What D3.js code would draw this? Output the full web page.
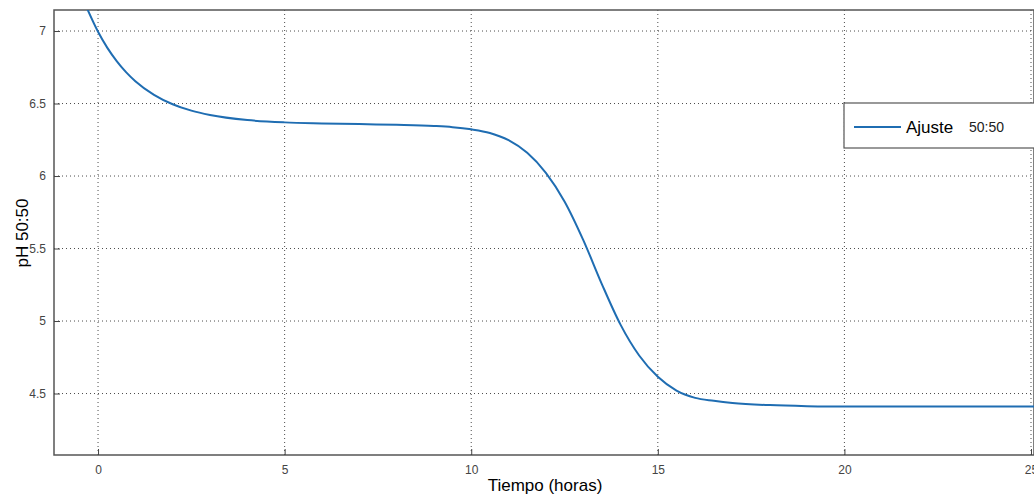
<!DOCTYPE html>
<html>
<head>
<meta charset="utf-8">
<script src="https://cdn.jsdelivr.net/npm/d3@7"></script>
<style>
  body { margin: 0; background: #fff; }
  svg { display: block; font-family: Arial, "Liberation Sans", sans-serif; }
</style>
</head>
<body>
<div id="chart"></div>
<script>
// Fitted pH curve
const tiempo = [-0.3, 0, 0.25, 0.5, 0.75, 1, 1.5, 2, 2.5, 3, 4, 5, 6, 7, 8, 9, 9.5, 10, 10.5, 11, 11.5, 12, 12.5, 13, 13.5, 14, 14.5, 15, 15.5, 16, 16.5, 17, 18, 19, 20, 22, 25.2];
const ph = [7.159, 6.995, 6.884, 6.793, 6.717, 6.654, 6.56, 6.495, 6.451, 6.421, 6.386, 6.37, 6.363, 6.358, 6.353, 6.345, 6.337, 6.322, 6.297, 6.247, 6.16, 6.022, 5.825, 5.56, 5.255, 4.975, 4.762, 4.615, 4.52, 4.47, 4.45, 4.435, 4.42, 4.413, 4.41, 4.41, 4.41];

const xTicks = [0, 5, 10, 15, 20, 25];
const yTicks = [4.5, 5, 5.5, 6, 6.5, 7];
const serieNombre = "Ajuste";
const serieSufijo = "50:50";

const W = 1034, H = 501;
const svg = d3.select("#chart").append("svg")
  .attr("width", W).attr("height", H);

const x = d3.scaleLinear().domain([-1.18, 25.08]).range([54, 1034]);
const y = d3.scaleLinear().domain([4.076, 7.145]).range([455, 10]);

// clip so the curve stays inside the axes
svg.append("clipPath").attr("id", "clip")
  .append("rect")
  .attr("x", x(-1.18)).attr("y", y(7.145))
  .attr("width", x(25.08) - x(-1.18)).attr("height", y(4.076) - y(7.145));

// grid lines (dotted)
svg.append("g").selectAll("line").data(xTicks).enter().append("line")
  .attr("x1", d => x(d)).attr("x2", d => x(d))
  .attr("y1", y(4.076)).attr("y2", y(7.145))
  .attr("stroke", "#000").attr("stroke-width", 1)
  .attr("stroke-dasharray", "1,3").attr("opacity", 0.7);
svg.append("g").selectAll("line").data(yTicks).enter().append("line")
  .attr("x1", x(-1.18)).attr("x2", x(25.08))
  .attr("y1", d => y(d)).attr("y2", d => y(d))
  .attr("stroke", "#000").attr("stroke-width", 1)
  .attr("stroke-dasharray", "1,3").attr("opacity", 0.7);

// axes box
svg.append("rect")
  .attr("x", x(-1.18)).attr("y", y(7.145))
  .attr("width", x(25.08) - x(-1.18)).attr("height", y(4.076) - y(7.145))
  .attr("fill", "none").attr("stroke", "#555").attr("stroke-width", 1.5);

// bottom axis
const xAxis = svg.append("g")
  .attr("transform", "translate(0," + y(4.076) + ")")
  .call(d3.axisBottom(x).tickValues(xTicks).tickSizeInner(-6).tickSizeOuter(0).tickPadding(10));
xAxis.select(".domain").remove();
xAxis.selectAll(".tick line").attr("stroke", "#444");
xAxis.selectAll("text").attr("font-size", 12).attr("fill", "#444");

// left axis
const yAxis = svg.append("g")
  .attr("transform", "translate(" + x(-1.18) + ",0)")
  .call(d3.axisLeft(y).tickValues(yTicks).tickSizeInner(-6).tickSizeOuter(0).tickPadding(8)
    .tickFormat(d3.format("")));
yAxis.select(".domain").remove();
yAxis.selectAll(".tick line").attr("stroke", "#444");
yAxis.selectAll("text").attr("font-size", 12).attr("fill", "#444");

// curve
const datos = tiempo.map((t, i) => ({t: t, ph: ph[i]}));
svg.append("path")
  .datum(datos)
  .attr("clip-path", "url(#clip)")
  .attr("fill", "none")
  .attr("stroke", "#1f6db2")
  .attr("stroke-width", 2)
  .attr("d", d3.line()
    .x(d => x(d.t))
    .y(d => y(d.ph))
    .curve(d3.curveMonotoneX));

// axis labels
svg.append("text")
  .attr("x", 545).attr("y", 491)
  .attr("text-anchor", "middle").attr("font-size", 17)
  .text("Tiempo (horas)");
svg.append("text")
  .attr("transform", "translate(28,233) rotate(-90)")
  .attr("text-anchor", "middle").attr("font-size", 17)
  .text("pH 50:50");

// legend
const lg = svg.append("g");
lg.append("rect")
  .attr("x", 844).attr("y", 103).attr("width", 200).attr("height", 45)
  .attr("fill", "#fff").attr("stroke", "#555").attr("stroke-width", 1.2);
lg.append("line")
  .attr("x1", 854).attr("x2", 901).attr("y1", 127).attr("y2", 127)
  .attr("stroke", "#1f6db2").attr("stroke-width", 2);
lg.append("text")
  .attr("x", 906).attr("y", 133).attr("font-size", 17)
  .text(serieNombre);
lg.append("text")
  .attr("x", 969).attr("y", 132).attr("font-size", 14).attr("fill", "#222")
  .text(serieSufijo);
</script>
</body>
</html>
